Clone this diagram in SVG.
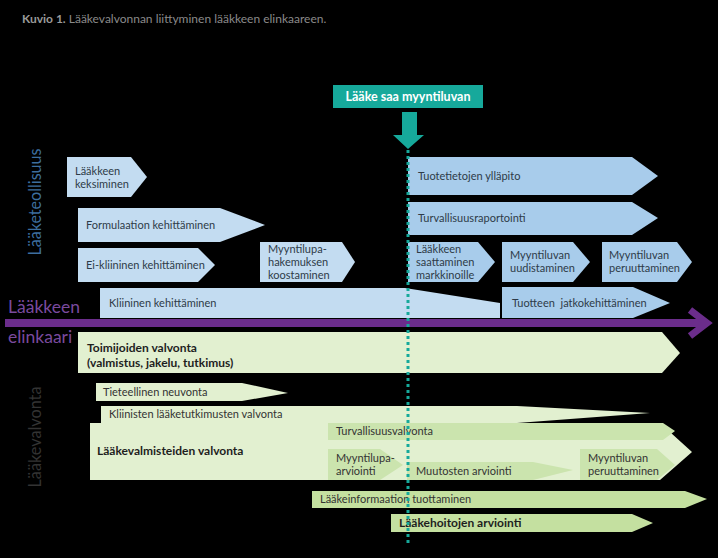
<svg xmlns="http://www.w3.org/2000/svg" width="718" height="558" viewBox="0 0 718 558">
<defs>
<style>
text{font-family:Lato,"Open Sans","Liberation Sans",sans-serif;}
.bl{fill:#c3dcf1;}
.bd{fill:#a8cceb;}
.gl{fill:#e2f0d0;}
.gd{fill:#cbe4ae;}
.ge{fill:#c4e0a0;}
.t{font-size:11px;fill:#2e3b48;}
.tg{font-size:11px;fill:#333333;}
.b{font-weight:bold;font-size:12px;fill:#1e1e1e;}
</style>
</defs>
<rect width="718" height="558" fill="#000000"/>
<text x="22" y="23" font-size="12"><tspan font-weight="bold" fill="#9a9a9a">Kuvio 1.</tspan><tspan fill="#8a8a8a"> Lääkevalvonnan liittyminen lääkkeen elinkaareen.</tspan></text>

<text transform="translate(41,202) rotate(-90)" text-anchor="middle" font-size="17" fill="#3d6e9f" textLength="107" lengthAdjust="spacingAndGlyphs">Lääketeollisuus</text>
<text transform="translate(41,437) rotate(-90)" text-anchor="middle" font-size="17" fill="#333333" textLength="101" lengthAdjust="spacingAndGlyphs">Lääkevalvonta</text>
<text x="8" y="313" font-size="17.5" fill="#7a4a9e">Lääkkeen</text>
<text x="8" y="343" font-size="17.5" fill="#7a4a9e">elinkaari</text>

<g id="myyntilupa">
<rect x="333" y="85" width="150" height="23" fill="#16a99b"/>
<text x="408" y="101" text-anchor="middle" font-size="12.5" font-weight="bold" fill="#ffffff">Lääke saa myyntiluvan</text>
</g>

<g id="n-keksiminen"><polygon class="bl" points="67,157 131,157 147,177 131,197 67,197"/><text class="t" x="75" y="175">Lääkkeen</text><text class="t" x="75" y="188">keksiminen</text></g>
<g id="n-formulaatio"><polygon class="bl" points="78,208 220,208 265,225 220,242 78,242"/><text class="t" x="86" y="229">Formulaation kehittäminen</text></g>
<g id="n-eikliininen"><polygon class="bl" points="78,248 198,248 215,265 198,282 78,282"/><text class="t" x="86" y="269">Ei-kliininen kehittäminen</text></g>
<g id="n-hakemus"><polygon class="bl" points="260,242 342,242 355,262 342,282 260,282"/><text class="t" x="268" y="253">Myyntilupa-</text><text class="t" x="268" y="266">hakemuksen</text><text class="t" x="268" y="279">koostaminen</text></g>
<g id="n-kliininen"><polygon class="bl" points="100,288 405,288 500,303 500,318 100,318"/><text class="t" x="109" y="307">Kliininen kehittäminen</text></g>
<g id="n-jatko"><polygon class="bd" points="502,287 633,287 670,303 633,318 502,318"/><text class="t" x="512" y="307" xml:space="preserve">Tuotteen  jatkokehittäminen</text></g>
<g id="n-tuotetiedot"><polygon class="bd" points="408,157 632,157 658,176 632,195 408,195"/><text class="t" x="418" y="180">Tuotetietojen ylläpito</text></g>
<g id="n-turvraportointi"><polygon class="bd" points="408,202 632,202 658,218 632,235 408,235"/><text class="t" x="418" y="222">Turvallisuusraportointi</text></g>
<g id="n-markkinoille"><polygon class="bd" points="408,242 478,242 495,262 478,282 408,282"/><text class="t" x="416" y="253">Lääkkeen</text><text class="t" x="416" y="266">saattaminen</text><text class="t" x="416" y="279">markkinoille</text></g>
<g id="n-uudistaminen"><polygon class="bd" points="502,242 573,242 590,262 573,282 502,282"/><text class="t" x="510" y="259">Myyntiluvan</text><text class="t" x="510" y="272">uudistaminen</text></g>
<g id="n-peruuttaminen1"><polygon class="bd" points="602,242 677,242 692,262 677,282 602,282"/><text class="t" x="609" y="259">Myyntiluvan</text><text class="t" x="609" y="272">peruuttaminen</text></g>

<g id="g-toimijat"><polygon class="gl" points="78,332 662,332 680,353 662,373 78,373"/><text class="b" x="87" y="352">Toimijoiden valvonta</text><text class="b" x="87" y="367">(valmistus, jakelu, tutkimus)</text></g>
<g id="g-neuvonta"><polygon class="gl" points="96,383 242,383 288,393 242,401 96,401"/><text class="tg" x="103" y="396">Tieteellinen neuvonta</text></g>
<g id="g-valmisteet"><path class="gl" d="M101,406 L517,406 L650,413 L517,423 L660,423 L692,452 L660,480 L90,480 L90,423 L101,423 Z"/><text class="tg" x="109" y="418">Kliinisten lääketutkimusten valvonta</text><text class="b" x="97" y="455">Lääkevalmisteiden valvonta</text></g>
<g id="g-turvvalvonta"><polygon class="gd" points="328,423 663,423 675,431 663,440 328,440"/><text class="tg" x="336" y="435">Turvallisuusvalvonta</text></g>
<g id="g-arviointi"><polygon class="gd" points="328,449 380,449 403,465 380,480 328,480"/><text class="tg" x="336" y="462">Myyntilupa-</text><text class="tg" x="336" y="475">arviointi</text></g>
<g id="g-muutokset"><polygon class="gd" points="407,462 533,462 573,470 533,480 407,480"/><text class="tg" x="416" y="475">Muutosten arviointi</text></g>
<g id="g-peruuttaminen2"><polygon class="gd" points="580,449 657,449 675,465 657,480 580,480"/><text class="tg" x="588" y="462">Myyntiluvan</text><text class="tg" x="588" y="475">peruuttaminen</text></g>
<g id="g-laakeinfo"><polygon class="ge" points="312,491 685,491 707,499 685,508 312,508"/><text class="tg" x="320" y="503">Lääkeinformaation tuottaminen</text></g>
<g id="g-hoidot"><polygon class="ge" points="391,514 632,514 653,523 632,532 391,532"/><text class="b" x="399" y="527">Lääkehoitojen arviointi</text></g>

<g id="connectors">
<rect x="5" y="319" width="698" height="8" fill="#6b2d8b"/>
<polyline points="690,310 707,323 690,336" fill="none" stroke="#6b2d8b" stroke-width="7" stroke-linejoin="miter"/>
<polygon points="402,112 417,112 417,135 424,135 408,149 393,135 402,135" fill="#16a99b"/>
<line x1="408" y1="150" x2="408" y2="543" stroke="#16a99b" stroke-width="3" stroke-dasharray="3,3"/>
</g>
</svg>
